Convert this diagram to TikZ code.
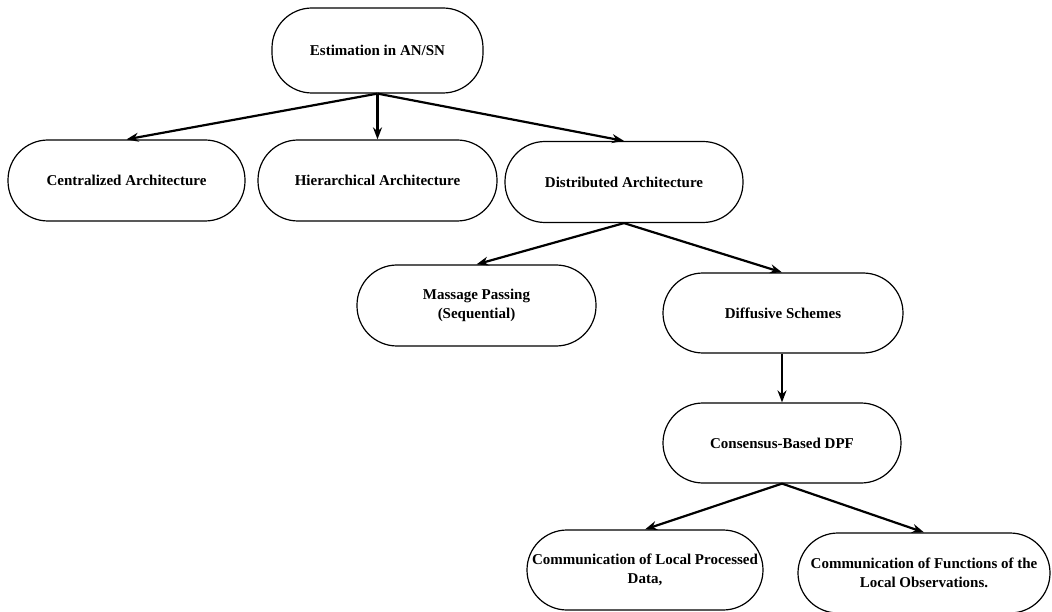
\documentclass[tikz,border=0pt]{standalone}
\usepackage{fontspec}
\setmainfont{Liberation Serif}
\usetikzlibrary{arrows.meta}
\begin{document}
\begin{tikzpicture}[x=1pt,y=-1pt,
  stadium/.style={draw, line width=1.2pt, rounded corners=40pt, inner sep=0pt,
    minimum height=81pt, align=center,
    font=\fontsize{15}{18.5}\selectfont\bfseries},
  link/.style={line width=2.2pt, -{Stealth[length=12pt,width=9pt]}}]
  \useasboundingbox (0,0) rectangle (1052,612);

  % tree of estimation architectures
  \node[stadium, minimum width=211pt, minimum height=85pt] (root) at (377.5,50.5) {Estimation in AN/SN};
  \node[stadium, minimum width=237pt] (cen) at (126.5,180.5) {Centralized Architecture};
  \node[stadium, minimum width=239pt] (hier) at (377.5,180.5) {Hierarchical Architecture};
  \node[stadium, minimum width=238pt] (dist) at (624,182) {Distributed Architecture};
  \node[stadium, minimum width=239pt] (msg) at (476.5,305.5) {Massage Passing\\(Sequential)};
  \node[stadium, minimum width=240pt, minimum height=80pt] (diff) at (783,313) {Diffusive Schemes};
  \node[stadium, minimum width=238pt, minimum height=80pt] (cons) at (782,443) {Consensus-Based DPF};
  \node[stadium, minimum width=236pt, minimum height=80pt] (loc) at (645,570) {Communication of Local Processed\\Data,};
  \node[stadium, minimum width=252pt, minimum height=80pt] (fun) at (924,573) {Communication of Functions of the\\Local Observations.};

  % connectors
  \draw[link] (root.south) -- (cen.north);
  \draw[link] (root.south) -- (hier.north);
  \draw[link] (root.south) -- (dist.north);
  \draw[link] (dist.south) -- (msg.north);
  \draw[link] (dist.south) -- (diff.north -| cons.north);
  \draw[link] (diff.south -| cons.north) -- (cons.north);
  \draw[link] (cons.south) -- (loc.north);
  \draw[link] (cons.south) -- (fun.north);
\end{tikzpicture}
\end{document}
